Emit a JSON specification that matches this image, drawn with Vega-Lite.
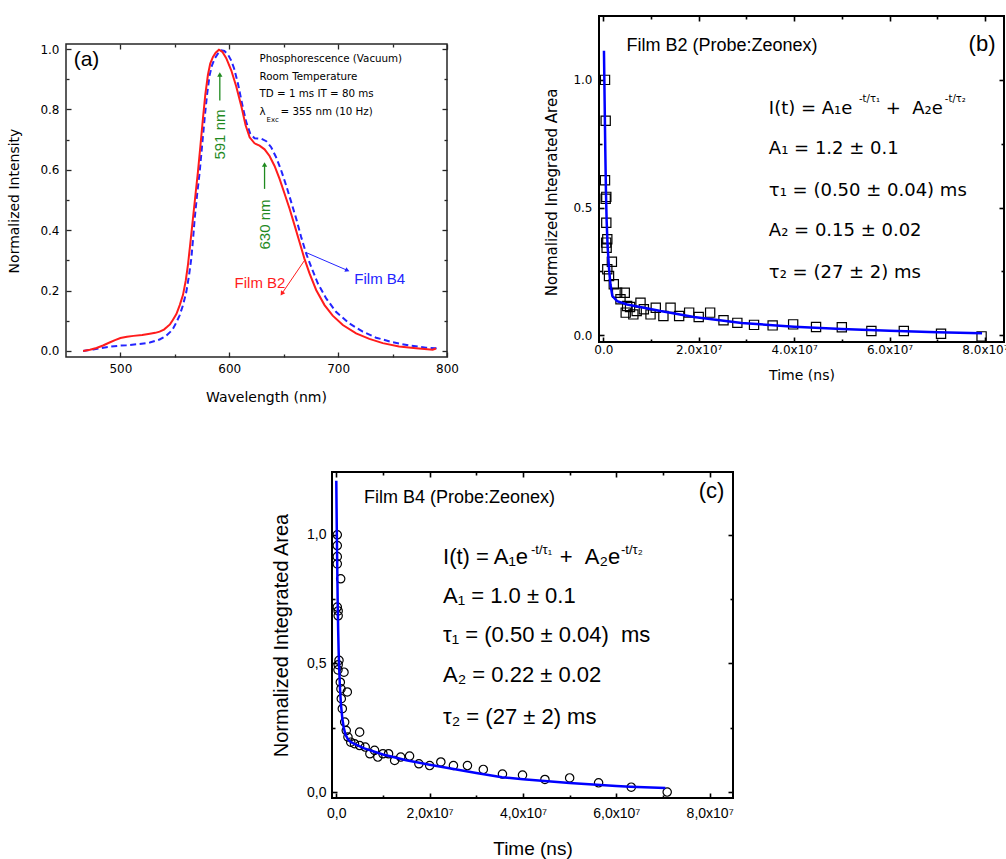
{
"$schema": "https://vega.github.io/schema/vega-lite/v6.json",
"background": "white",
"padding": {"left": 7, "top": 14, "right": 0, "bottom": 0},
"config": {
  "view": {"stroke": null},
  "axis": {"grid": false, "domain": false, "labelOverlap": false, "labelFlush": false, "tickColor": "black", "tickWidth": 1.3, "labelColor": "black", "titleColor": "black", "titleFontWeight": "normal"}
},
"datasets": {
  "filmB2": [
    {"wavelength":465.7,"intensity":0},{"wavelength":472,"intensity":0.004},{"wavelength":478,"intensity":0.01},{"wavelength":484,"intensity":0.018},{"wavelength":490,"intensity":0.028},{"wavelength":495,"intensity":0.036},{"wavelength":500,"intensity":0.043},{"wavelength":506,"intensity":0.047},{"wavelength":512,"intensity":0.05},{"wavelength":520,"intensity":0.053},{"wavelength":527,"intensity":0.057},{"wavelength":532,"intensity":0.06},{"wavelength":536,"intensity":0.064},{"wavelength":540,"intensity":0.071},{"wavelength":543,"intensity":0.08},{"wavelength":545.5,"intensity":0.088},{"wavelength":548,"intensity":0.102},{"wavelength":551.4,"intensity":0.122},{"wavelength":554.5,"intensity":0.152},{"wavelength":557.5,"intensity":0.186},{"wavelength":560,"intensity":0.233},{"wavelength":562,"intensity":0.284},{"wavelength":564,"intensity":0.35},{"wavelength":566.6,"intensity":0.438},{"wavelength":569,"intensity":0.52},{"wavelength":571.2,"intensity":0.593},{"wavelength":573.5,"intensity":0.68},{"wavelength":575.8,"intensity":0.77},{"wavelength":578,"intensity":0.85},{"wavelength":580.4,"intensity":0.915},{"wavelength":582.5,"intensity":0.952},{"wavelength":585,"intensity":0.974},{"wavelength":587.5,"intensity":0.988},{"wavelength":590.5,"intensity":0.998},{"wavelength":593.6,"intensity":0.991},{"wavelength":597.2,"intensity":0.97},{"wavelength":601.8,"intensity":0.93},{"wavelength":606.4,"intensity":0.876},{"wavelength":611,"intensity":0.812},{"wavelength":615,"intensity":0.748},{"wavelength":618.7,"intensity":0.708},{"wavelength":623.2,"intensity":0.688},{"wavelength":627.8,"intensity":0.68},{"wavelength":632.4,"intensity":0.668},{"wavelength":637,"intensity":0.646},{"wavelength":641.6,"intensity":0.613},{"wavelength":646.2,"intensity":0.57},{"wavelength":650.8,"intensity":0.521},{"wavelength":655.4,"intensity":0.471},{"wavelength":660,"intensity":0.416},{"wavelength":664.5,"intensity":0.361},{"wavelength":669,"intensity":0.306},{"wavelength":673.7,"intensity":0.257},{"wavelength":679.8,"intensity":0.202},{"wavelength":687.5,"intensity":0.152},{"wavelength":695,"intensity":0.117},{"wavelength":704.3,"intensity":0.086},{"wavelength":716.5,"intensity":0.058},{"wavelength":728.7,"intensity":0.04},{"wavelength":741,"intensity":0.026},{"wavelength":756,"intensity":0.015},{"wavelength":771.6,"intensity":0.009},{"wavelength":786.8,"intensity":0.004},{"wavelength":789.9,"intensity":0.008}
  ],
  "filmB4": [
    {"wavelength":465.7,"intensity":0},{"wavelength":475,"intensity":0.005},{"wavelength":481,"intensity":0.009},{"wavelength":490,"intensity":0.014},{"wavelength":500,"intensity":0.018},{"wavelength":505.5,"intensity":0.019},{"wavelength":517.7,"intensity":0.023},{"wavelength":527,"intensity":0.028},{"wavelength":536,"intensity":0.038},{"wavelength":542,"intensity":0.05},{"wavelength":546,"intensity":0.064},{"wavelength":548.3,"intensity":0.074},{"wavelength":551,"intensity":0.092},{"wavelength":554.4,"intensity":0.118},{"wavelength":557.5,"intensity":0.152},{"wavelength":560.5,"intensity":0.195},{"wavelength":563,"intensity":0.25},{"wavelength":565.1,"intensity":0.306},{"wavelength":566.7,"intensity":0.37},{"wavelength":568.2,"intensity":0.438},{"wavelength":570.5,"intensity":0.52},{"wavelength":572.8,"intensity":0.593},{"wavelength":575,"intensity":0.68},{"wavelength":577.3,"intensity":0.769},{"wavelength":579.6,"intensity":0.85},{"wavelength":581.9,"intensity":0.913},{"wavelength":584,"intensity":0.945},{"wavelength":586.5,"intensity":0.968},{"wavelength":589.5,"intensity":0.985},{"wavelength":592.7,"intensity":0.996},{"wavelength":595.5,"intensity":0.994},{"wavelength":598.8,"intensity":0.982},{"wavelength":601.8,"intensity":0.962},{"wavelength":604.5,"intensity":0.935},{"wavelength":608,"intensity":0.885},{"wavelength":612,"intensity":0.815},{"wavelength":615.6,"intensity":0.758},{"wavelength":619.3,"intensity":0.719},{"wavelength":623.2,"intensity":0.705},{"wavelength":626,"intensity":0.704},{"wavelength":629.4,"intensity":0.703},{"wavelength":634,"intensity":0.695},{"wavelength":638.5,"intensity":0.675},{"wavelength":643,"intensity":0.642},{"wavelength":647.7,"intensity":0.598},{"wavelength":652.3,"intensity":0.548},{"wavelength":656.9,"intensity":0.493},{"wavelength":661.5,"intensity":0.438},{"wavelength":666,"intensity":0.378},{"wavelength":670.6,"intensity":0.323},{"wavelength":675.2,"intensity":0.279},{"wavelength":681.3,"intensity":0.224},{"wavelength":689,"intensity":0.174},{"wavelength":698,"intensity":0.13},{"wavelength":710.4,"intensity":0.091},{"wavelength":722.6,"intensity":0.064},{"wavelength":734.9,"intensity":0.044},{"wavelength":750,"intensity":0.029},{"wavelength":765.4,"intensity":0.018},{"wavelength":780.7,"intensity":0.011},{"wavelength":789.6,"intensity":0.009},{"wavelength":790.8,"intensity":0.02}
  ],
  "decayB2": [
    {"time":3.6e5,"area":1.0},{"time":5.0e5,"area":0.84},{"time":3.6e5,"area":0.607},{"time":6.3e5,"area":0.542},{"time":5.0e5,"area":0.535},{"time":6.3e5,"area":0.441},{"time":6.0e5,"area":0.363},{"time":8.4e5,"area":0.376},{"time":7.0e5,"area":0.343},{"time":8.4e5,"area":0.259},{"time":1.8e6,"area":0.288},{"time":1.2e6,"area":0.232},{"time":2.2e6,"area":0.2},{"time":2.9e6,"area":0.167},{"time":4.5e6,"area":0.167},{"time":3.6e6,"area":0.141},{"time":5.0e6,"area":0.115},{"time":4.7e6,"area":0.089},{"time":5.6e6,"area":0.111},{"time":6.3e6,"area":0.082},{"time":7.0e6,"area":0.095},{"time":7.8e6,"area":0.128},{"time":8.5e6,"area":0.102},{"time":9.9e6,"area":0.082},{"time":1.1e7,"area":0.108},{"time":1.26e7,"area":0.076},{"time":1.41e7,"area":0.108},{"time":1.59e7,"area":0.076},{"time":1.8e7,"area":0.089},{"time":2.0e7,"area":0.072},{"time":2.24e7,"area":0.089},{"time":2.52e7,"area":0.059},{"time":2.81e7,"area":0.049},{"time":3.16e7,"area":0.041},{"time":3.55e7,"area":0.039},{"time":3.98e7,"area":0.043},{"time":4.46e7,"area":0.033},{"time":5.0e7,"area":0.032},{"time":5.62e7,"area":0.017},{"time":6.3e7,"area":0.017},{"time":7.08e7,"area":0.006},{"time":7.93e7,"area":-0.004}
  ],
  "fitB2": [
    {"time":1.4e5,"area":1.114},{"time":2.8e5,"area":0.918},{"time":4.2e5,"area":0.722},{"time":5.6e5,"area":0.56},{"time":7e5,"area":0.45},{"time":9e5,"area":0.35},{"time":1.2e6,"area":0.262},{"time":1.5e6,"area":0.2},{"time":1.9e6,"area":0.154},{"time":2.9e6,"area":0.134},{"time":5e6,"area":0.121},{"time":1.2e7,"area":0.095},{"time":1.9e7,"area":0.072},{"time":2.9e7,"area":0.048},{"time":4e7,"area":0.034},{"time":5e7,"area":0.025},{"time":6e7,"area":0.018},{"time":7e7,"area":0.012},{"time":7.94e7,"area":0.008}
  ],
  "decayB4": [
    {"time":2.1e5,"area":1.0},{"time":2.1e5,"area":0.958},{"time":2.1e5,"area":0.915},{"time":2.1e5,"area":0.887},{"time":9.4e5,"area":0.829},{"time":2.1e5,"area":0.719},{"time":4e5,"area":0.704},{"time":4e5,"area":0.685},{"time":5.8e5,"area":0.512},{"time":4e5,"area":0.495},{"time":3.6e5,"area":0.475},{"time":1.65e6,"area":0.466},{"time":8.6e5,"area":0.427},{"time":2.36e6,"area":0.389},{"time":1.0e6,"area":0.401},{"time":1.07e6,"area":0.363},{"time":1.29e6,"area":0.324},{"time":1.8e6,"area":0.272},{"time":2.14e6,"area":0.239},{"time":5.0e6,"area":0.233},{"time":2.5e6,"area":0.214},{"time":3.1e6,"area":0.194},{"time":3.9e6,"area":0.188},{"time":5.0e6,"area":0.181},{"time":6.2e6,"area":0.175},{"time":7.2e6,"area":0.149},{"time":8.2e6,"area":0.162},{"time":8.9e6,"area":0.136},{"time":1.0e7,"area":0.149},{"time":1.12e7,"area":0.149},{"time":1.25e7,"area":0.123},{"time":1.38e7,"area":0.136},{"time":1.57e7,"area":0.14},{"time":1.77e7,"area":0.11},{"time":2.0e7,"area":0.103},{"time":2.24e7,"area":0.117},{"time":2.51e7,"area":0.103},{"time":2.81e7,"area":0.103},{"time":3.15e7,"area":0.088},{"time":3.56e7,"area":0.07},{"time":3.99e7,"area":0.066},{"time":4.47e7,"area":0.049},{"time":5.0e7,"area":0.055},{"time":5.62e7,"area":0.036},{"time":6.32e7,"area":0.019},{"time":7.09e7,"area":0.0}
  ],
  "fitB4": [
    {"time":0,"area":1.21},{"time":1e5,"area":1.03},{"time":2e5,"area":0.88},{"time":3e5,"area":0.74},{"time":4e5,"area":0.63},{"time":5e5,"area":0.55},{"time":6e5,"area":0.49},{"time":8e5,"area":0.4},{"time":1e6,"area":0.34},{"time":1.3e6,"area":0.285},{"time":1.6e6,"area":0.25},{"time":2e6,"area":0.222},{"time":2.5e6,"area":0.205},{"time":3e6,"area":0.196},{"time":4e6,"area":0.186},{"time":6e6,"area":0.17},{"time":1e7,"area":0.146},{"time":1.5e7,"area":0.124},{"time":2e7,"area":0.106},{"time":3e7,"area":0.074},{"time":3.55e7,"area":0.058},{"time":4e7,"area":0.05},{"time":5e7,"area":0.035},{"time":6e7,"area":0.024},{"time":6.3e7,"area":0.021},{"time":7.05e7,"area":0.016}
  ]
},
"spacing": 65,
"vconcat": [
 {
  "spacing": 83,
  "hconcat": [
   {
    "spacing": 6,
    "vconcat": [
     {"width": 20, "height": 20, "data": {"values": [{"k": 0}]}, "mark": {"type": "point", "opacity": 0}, "encoding": {}, "view": {"stroke": null}},
     {
      "width": 381, "height": 313,
      "view": {"stroke": "#262626", "strokeWidth": 1.5},
      "resolve": {"axis": {"x": "independent", "y": "independent"}},
      "layer": [
       {
        "data": {"name": "filmB4"},
        "mark": {"type": "line", "color": "#2424ff", "strokeWidth": 2, "strokeDash": [6, 3.5]},
        "encoding": {
         "x": {"field": "wavelength", "type": "quantitative", "scale": {"domain": [450, 800], "nice": false, "zero": false},
               "axis": {"orient": "bottom", "values": [500, 600, 700, 800], "tickSize": -5, "tickColor": "#262626", "labelPadding": 11, "labelFont": "DejaVu Sans", "labelFontSize": 12, "title": "Wavelength (nm)", "titleFont": "DejaVu Sans", "titleFontSize": 14, "titlePadding": 16, "titleX": 200}},
         "y": {"field": "intensity", "type": "quantitative", "scale": {"domain": [-0.02, 1.017], "nice": false, "zero": false},
               "axis": {"orient": "left", "values": [0, 0.2, 0.4, 0.6, 0.8, 1], "format": ".1f", "tickSize": -5, "tickColor": "#262626", "labelPadding": 12, "labelFont": "DejaVu Sans", "labelFontSize": 12, "title": "Normalized Intensity", "titleFont": "DejaVu Sans", "titleFontSize": 14, "titlePadding": 18}}
        }
       },
       {
        "data": {"name": "filmB2"},
        "mark": {"type": "line", "color": "#ff1c1c", "strokeWidth": 2},
        "encoding": {
         "x": {"field": "wavelength", "type": "quantitative", "scale": {"domain": [450, 800], "nice": false, "zero": false},
               "axis": {"orient": "top", "values": [500, 600, 700, 800], "tickSize": -5, "tickColor": "#262626", "labels": false, "title": null}},
         "y": {"field": "intensity", "type": "quantitative", "scale": {"domain": [-0.02, 1.017], "nice": false, "zero": false},
               "axis": {"orient": "right", "values": [0, 0.2, 0.4, 0.6, 0.8, 1], "tickSize": -5, "tickColor": "#262626", "labels": false, "title": null}}
        }
       },
       {
        "data": {"values": [{"wavelength": 591.3, "intensity": 0.83, "intensity2": 0.915}, {"wavelength": 632.4, "intensity": 0.537, "intensity2": 0.615}]},
        "mark": {"type": "rule", "color": "#1f8a1f", "strokeWidth": 1.3},
        "encoding": {
         "x": {"field": "wavelength", "type": "quantitative", "scale": {"domain": [450, 800], "nice": false, "zero": false},
               "axis": {"orient": "bottom", "values": [550, 650, 750], "tickSize": -3, "tickColor": "#262626", "labels": false, "title": null}},
         "y": {"field": "intensity", "type": "quantitative", "scale": {"domain": [-0.02, 1.017], "nice": false, "zero": false},
               "axis": {"orient": "left", "values": [0.1, 0.3, 0.5, 0.7, 0.9], "tickSize": -3, "tickColor": "#262626", "labels": false, "title": null}},
         "y2": {"field": "intensity2"}
        }
       },
       {
        "data": {"values": [{"wavelength": 591.3, "intensity": 0.916}, {"wavelength": 632.4, "intensity": 0.618}]},
        "mark": {"type": "point", "shape": "triangle-up", "filled": true, "color": "#1f8a1f", "opacity": 1, "size": 28},
        "encoding": {
         "x": {"field": "wavelength", "type": "quantitative", "scale": {"domain": [450, 800], "nice": false, "zero": false},
               "axis": {"orient": "top", "values": [550, 650, 750], "tickSize": -3, "tickColor": "#262626", "labels": false, "title": null}},
         "y": {"field": "intensity", "type": "quantitative", "scale": {"domain": [-0.02, 1.017], "nice": false, "zero": false},
               "axis": {"orient": "right", "values": [0.1, 0.3, 0.5, 0.7, 0.9], "tickSize": -3, "tickColor": "#262626", "labels": false, "title": null}}
        }
       },
       {
        "data": {"values": [{"wavelength": 670.6, "intensity": 0.326, "wavelength2": 708.5, "intensity2": 0.267}]},
        "mark": {"type": "rule", "color": "#2424ff", "strokeWidth": 1},
        "encoding": {
         "x": {"field": "wavelength", "type": "quantitative", "scale": {"domain": [450, 800], "nice": false, "zero": false}, "axis": null},
         "y": {"field": "intensity", "type": "quantitative", "scale": {"domain": [-0.02, 1.017], "nice": false, "zero": false}, "axis": null},
         "x2": {"field": "wavelength2"}, "y2": {"field": "intensity2"}
        }
       },
       {
        "data": {"values": [{"wavelength": 708.5, "intensity": 0.267}]},
        "mark": {"type": "point", "shape": "triangle-right", "angle": 23, "filled": true, "color": "#2424ff", "opacity": 1, "size": 26},
        "encoding": {
         "x": {"field": "wavelength", "type": "quantitative", "scale": {"domain": [450, 800], "nice": false, "zero": false}, "axis": null},
         "y": {"field": "intensity", "type": "quantitative", "scale": {"domain": [-0.02, 1.017], "nice": false, "zero": false}, "axis": null}
        }
       },
       {
        "data": {"values": [{"wavelength": 669.1, "intensity": 0.3, "wavelength2": 648.3, "intensity2": 0.19}]},
        "mark": {"type": "rule", "color": "#ff1c1c", "strokeWidth": 1},
        "encoding": {
         "x": {"field": "wavelength", "type": "quantitative", "scale": {"domain": [450, 800], "nice": false, "zero": false}, "axis": null},
         "y": {"field": "intensity", "type": "quantitative", "scale": {"domain": [-0.02, 1.017], "nice": false, "zero": false}, "axis": null},
         "x2": {"field": "wavelength2"}, "y2": {"field": "intensity2"}
        }
       },
       {
        "data": {"values": [{"wavelength": 648.3, "intensity": 0.19}]},
        "mark": {"type": "point", "shape": "triangle-right", "angle": 124, "filled": true, "color": "#ff1c1c", "opacity": 1, "size": 26},
        "encoding": {
         "x": {"field": "wavelength", "type": "quantitative", "scale": {"domain": [450, 800], "nice": false, "zero": false}, "axis": null},
         "y": {"field": "intensity", "type": "quantitative", "scale": {"domain": [-0.02, 1.017], "nice": false, "zero": false}, "axis": null}
        }
       },
       {
        "data": {"values": [{"wavelength": 591.3, "intensity": 0.717, "label": "591 nm"}, {"wavelength": 632.4, "intensity": 0.419, "label": "630 nm"}]},
        "mark": {"type": "text", "font": "Liberation Sans", "fontSize": 15, "angle": 270, "align": "center", "baseline": "middle", "color": "#1f8a1f"},
        "encoding": {
         "x": {"field": "wavelength", "type": "quantitative", "scale": {"domain": [450, 800], "nice": false, "zero": false}, "axis": null},
         "y": {"field": "intensity", "type": "quantitative", "scale": {"domain": [-0.02, 1.017], "nice": false, "zero": false}, "axis": null},
         "text": {"field": "label"}
        }
       },
       {
        "data": {"values": [{"wavelength": 714.9, "intensity": 0.237, "label": "Film B4"}]},
        "mark": {"type": "text", "font": "Liberation Sans", "fontSize": 15, "align": "left", "baseline": "middle", "color": "#2424ff"},
        "encoding": {
         "x": {"field": "wavelength", "type": "quantitative", "scale": {"domain": [450, 800], "nice": false, "zero": false}, "axis": null},
         "y": {"field": "intensity", "type": "quantitative", "scale": {"domain": [-0.02, 1.017], "nice": false, "zero": false}, "axis": null},
         "text": {"field": "label"}
        }
       },
       {
        "data": {"values": [{"wavelength": 604.9, "intensity": 0.225, "label": "Film B2"}]},
        "mark": {"type": "text", "font": "Liberation Sans", "fontSize": 15, "align": "left", "baseline": "middle", "color": "#ff1c1c"},
        "encoding": {
         "x": {"field": "wavelength", "type": "quantitative", "scale": {"domain": [450, 800], "nice": false, "zero": false}, "axis": null},
         "y": {"field": "intensity", "type": "quantitative", "scale": {"domain": [-0.02, 1.017], "nice": false, "zero": false}, "axis": null},
         "text": {"field": "label"}
        }
       },
       {
        "data": {"values": [{"wavelength": 468.8, "intensity": 0.963, "label": "(a)"}]},
        "mark": {"type": "text", "font": "Liberation Sans", "fontSize": 21, "align": "center", "baseline": "middle", "color": "black"},
        "encoding": {
         "x": {"field": "wavelength", "type": "quantitative", "scale": {"domain": [450, 800], "nice": false, "zero": false}, "axis": null},
         "y": {"field": "intensity", "type": "quantitative", "scale": {"domain": [-0.02, 1.017], "nice": false, "zero": false}, "axis": null},
         "text": {"field": "label"}
        }
       },
       {
        "data": {"values": [
          {"wavelength": 627.8, "intensity": 0.966, "label": "Phosphorescence (Vacuum)"},
          {"wavelength": 627.8, "intensity": 0.908, "label": "Room Temperature"},
          {"wavelength": 627.8, "intensity": 0.851, "label": "TD = 1 ms IT = 80 ms"},
          {"wavelength": 627.8, "intensity": 0.791, "label": "λ"},
          {"wavelength": 647.1, "intensity": 0.791, "label": "= 355 nm (10 Hz)"}
        ]},
        "mark": {"type": "text", "font": "DejaVu Sans", "fontSize": 10.3, "align": "left", "baseline": "middle", "color": "black"},
        "encoding": {
         "x": {"field": "wavelength", "type": "quantitative", "scale": {"domain": [450, 800], "nice": false, "zero": false}, "axis": null},
         "y": {"field": "intensity", "type": "quantitative", "scale": {"domain": [-0.02, 1.017], "nice": false, "zero": false}, "axis": null},
         "text": {"field": "label"}
        }
       },
       {
        "data": {"values": [{"wavelength": 634.2, "intensity": 0.766, "label": "Exc"}]},
        "mark": {"type": "text", "font": "DejaVu Sans", "fontSize": 7, "align": "left", "baseline": "middle", "color": "black"},
        "encoding": {
         "x": {"field": "wavelength", "type": "quantitative", "scale": {"domain": [450, 800], "nice": false, "zero": false}, "axis": null},
         "y": {"field": "intensity", "type": "quantitative", "scale": {"domain": [-0.02, 1.017], "nice": false, "zero": false}, "axis": null},
         "text": {"field": "label"}
        }
       }
      ]
     }
    ]
   },
   {
    "width": 405, "height": 326,
    "view": {"stroke": "black", "strokeWidth": 2},
    "resolve": {"axis": {"x": "independent", "y": "independent"}},
    "layer": [
     {
      "data": {"name": "decayB2"},
      "mark": {"type": "point", "shape": "square", "filled": false, "stroke": "black", "strokeWidth": 1.2, "opacity": 1, "size": 85},
      "encoding": {
       "x": {"field": "time", "type": "quantitative", "scale": {"domain": [-9e5, 8.4e7], "nice": false, "zero": false},
             "axis": {"orient": "bottom", "values": [0, 2e7, 4e7, 6e7, 8e7], "labelExpr": "datum.value === 0 ? '0.0' : format(datum.value / 1e7, '.1f') + 'x10⁷'", "tickSize": -5, "tickWidth": 1.6, "labelPadding": 7, "labelFont": "DejaVu Sans", "labelFontSize": 12, "title": "Time (ns)", "titleFont": "DejaVu Sans", "titleFontSize": 14, "titlePadding": 13}},
       "y": {"field": "area", "type": "quantitative", "scale": {"domain": [-0.026, 1.25], "nice": false, "zero": false},
             "axis": {"orient": "left", "values": [0, 0.5, 1], "format": ".1f", "tickSize": -5, "tickWidth": 1.6, "labelPadding": 12, "labelFont": "DejaVu Sans", "labelFontSize": 12, "title": "Normalized Integrated Area", "titleFont": "DejaVu Sans", "titleFontSize": 15, "titlePadding": 13, "titleY": 176}}
      }
     },
     {
      "data": {"name": "fitB2"},
      "mark": {"type": "line", "color": "#0000ff", "strokeWidth": 2.5},
      "encoding": {
       "x": {"field": "time", "type": "quantitative", "scale": {"domain": [-9e5, 8.4e7], "nice": false, "zero": false},
             "axis": {"orient": "top", "values": [0, 2e7, 4e7, 6e7, 8e7], "tickSize": -5, "tickWidth": 1.6, "labels": false, "title": null}},
       "y": {"field": "area", "type": "quantitative", "scale": {"domain": [-0.026, 1.25], "nice": false, "zero": false},
             "axis": {"orient": "right", "values": [0, 0.5, 1], "tickSize": -5, "tickWidth": 1.6, "labels": false, "title": null}}
      }
     },
     {
      "data": {"values": [{"time": 4.86e6, "area": 1.133, "label": "Film B2 (Probe:Zeonex)"}]},
      "mark": {"type": "text", "font": "Liberation Sans", "fontSize": 18, "align": "left", "baseline": "middle", "color": "black"},
      "encoding": {
       "x": {"field": "time", "type": "quantitative", "scale": {"domain": [-9e5, 8.4e7], "nice": false, "zero": false},
             "axis": {"orient": "bottom", "values": [1e7, 3e7, 5e7, 7e7], "tickSize": -3, "tickWidth": 1.6, "labels": false, "title": null}},
       "y": {"field": "area", "type": "quantitative", "scale": {"domain": [-0.026, 1.25], "nice": false, "zero": false},
             "axis": {"orient": "left", "values": [0.25, 0.75], "tickSize": -3, "tickWidth": 1.6, "labels": false, "title": null}},
       "text": {"field": "label"}
      }
     },
     {
      "data": {"values": [{"time": 7.94e7, "area": 1.141, "label": "(b)"}]},
      "mark": {"type": "text", "font": "Liberation Sans", "fontSize": 22, "align": "center", "baseline": "middle", "color": "black"},
      "encoding": {
       "x": {"field": "time", "type": "quantitative", "scale": {"domain": [-9e5, 8.4e7], "nice": false, "zero": false},
             "axis": {"orient": "top", "values": [1e7, 3e7, 5e7, 7e7], "tickSize": -3, "tickWidth": 1.6, "labels": false, "title": null}},
       "y": {"field": "area", "type": "quantitative", "scale": {"domain": [-0.026, 1.25], "nice": false, "zero": false},
             "axis": {"orient": "right", "values": [0.25, 0.75], "tickSize": -3, "tickWidth": 1.6, "labels": false, "title": null}},
       "text": {"field": "label"}
      }
     },
     {
      "data": {"values": [
        {"time": 3.47e7, "area": 0.885, "label": "I(t) = A₁e"},
        {"time": 5.92e7, "area": 0.885, "label": "+ \u00a0A₂e"},
        {"time": 3.47e7, "area": 0.729, "label": "A₁ = 1.2 ± 0.1"},
        {"time": 3.47e7, "area": 0.565, "label": "τ₁ = (0.50 ± 0.04) ms"},
        {"time": 3.47e7, "area": 0.409, "label": "A₂ = 0.15 ± 0.02"},
        {"time": 3.47e7, "area": 0.245, "label": "τ₂ = (27 ± 2) ms"}
      ]},
      "mark": {"type": "text", "font": "DejaVu Sans", "fontSize": 18, "align": "left", "baseline": "middle", "color": "black"},
      "encoding": {
       "x": {"field": "time", "type": "quantitative", "scale": {"domain": [-9e5, 8.4e7], "nice": false, "zero": false}, "axis": null},
       "y": {"field": "area", "type": "quantitative", "scale": {"domain": [-0.026, 1.25], "nice": false, "zero": false}, "axis": null},
       "text": {"field": "label"}
      }
     },
     {
      "data": {"values": [
        {"time": 5.36e7, "area": 0.924, "label": "-t/τ₁"},
        {"time": 7.16e7, "area": 0.924, "label": "-t/τ₂"}
      ]},
      "mark": {"type": "text", "font": "DejaVu Sans", "fontSize": 10, "align": "left", "baseline": "middle", "color": "black"},
      "encoding": {
       "x": {"field": "time", "type": "quantitative", "scale": {"domain": [-9e5, 8.4e7], "nice": false, "zero": false}, "axis": null},
       "y": {"field": "area", "type": "quantitative", "scale": {"domain": [-0.026, 1.25], "nice": false, "zero": false}, "axis": null},
       "text": {"field": "label"}
      }
     }
    ]
   }
  ]
 },
 {
  "spacing": 54,
  "hconcat": [
   {"width": 150, "height": 20, "data": {"values": [{"k": 0}]}, "mark": {"type": "point", "opacity": 0}, "encoding": {}, "view": {"stroke": null}},
   {
    "width": 401, "height": 326,
    "view": {"stroke": "black", "strokeWidth": 2},
    "resolve": {"axis": {"x": "independent", "y": "independent"}},
    "layer": [
     {
      "data": {"name": "decayB4"},
      "mark": {"type": "point", "shape": "circle", "filled": false, "stroke": "black", "strokeWidth": 1.2, "opacity": 1, "size": 70},
      "encoding": {
       "x": {"field": "time", "type": "quantitative", "scale": {"domain": [-9.2e5, 8.5e7], "nice": false, "zero": false},
             "axis": {"orient": "bottom", "values": [0, 2e7, 4e7, 6e7, 8e7], "labelExpr": "datum.value === 0 ? '0,0' : replace(format(datum.value / 1e7, '.1f'), '.', ',') + 'x10⁷'", "tickSize": -5, "tickWidth": 1.6, "labelPadding": 13, "labelFont": "Liberation Sans", "labelFontSize": 14, "title": "Time (ns)", "titleFont": "Liberation Sans", "titleFontSize": 19, "titlePadding": 19}},
       "y": {"field": "area", "type": "quantitative", "scale": {"domain": [-0.023, 1.244], "nice": false, "zero": false},
             "axis": {"orient": "left", "values": [0, 0.5, 1], "labelExpr": "replace(format(datum.value, '.1f'), '.', ',')", "tickSize": -5, "tickWidth": 1.6, "labelPadding": 11, "labelFont": "Liberation Sans", "labelFontSize": 14, "title": "Normalized Integrated Area", "titleFont": "Liberation Sans", "titleFontSize": 20, "titlePadding": 15}}
      }
     },
     {
      "data": {"name": "fitB4"},
      "mark": {"type": "line", "color": "#0000ff", "strokeWidth": 2.5},
      "encoding": {
       "x": {"field": "time", "type": "quantitative", "scale": {"domain": [-9.2e5, 8.5e7], "nice": false, "zero": false},
             "axis": {"orient": "top", "values": [0, 2e7, 4e7, 6e7, 8e7], "tickSize": -5, "tickWidth": 1.6, "labels": false, "title": null}},
       "y": {"field": "area", "type": "quantitative", "scale": {"domain": [-0.023, 1.244], "nice": false, "zero": false},
             "axis": {"orient": "right", "values": [0, 0.5, 1], "tickSize": -5, "tickWidth": 1.6, "labels": false, "title": null}}
      }
     },
     {
      "data": {"values": [{"time": 5.94e6, "area": 1.143, "label": "Film B4 (Probe:Zeonex)"}]},
      "mark": {"type": "text", "font": "Liberation Sans", "fontSize": 18, "align": "left", "baseline": "middle", "color": "black"},
      "encoding": {
       "x": {"field": "time", "type": "quantitative", "scale": {"domain": [-9.2e5, 8.5e7], "nice": false, "zero": false},
             "axis": {"orient": "bottom", "values": [1e7, 3e7, 5e7, 7e7], "tickSize": -3, "tickWidth": 1.6, "labels": false, "title": null}},
       "y": {"field": "area", "type": "quantitative", "scale": {"domain": [-0.023, 1.244], "nice": false, "zero": false},
             "axis": {"orient": "left", "values": [0.25, 0.75], "tickSize": -3, "tickWidth": 1.6, "labels": false, "title": null}},
       "text": {"field": "label"}
      }
     },
     {
      "data": {"values": [{"time": 8.04e7, "area": 1.172, "label": "(c)"}]},
      "mark": {"type": "text", "font": "Liberation Sans", "fontSize": 22, "align": "center", "baseline": "middle", "color": "black"},
      "encoding": {
       "x": {"field": "time", "type": "quantitative", "scale": {"domain": [-9.2e5, 8.5e7], "nice": false, "zero": false},
             "axis": {"orient": "top", "values": [1e7, 3e7, 5e7, 7e7], "tickSize": -3, "tickWidth": 1.6, "labels": false, "title": null}},
       "y": {"field": "area", "type": "quantitative", "scale": {"domain": [-0.023, 1.244], "nice": false, "zero": false},
             "axis": {"orient": "right", "values": [0.25, 0.75], "tickSize": -3, "tickWidth": 1.6, "labels": false, "title": null}},
       "text": {"field": "label"}
      }
     },
     {
      "data": {"values": [
        {"time": 2.287e7, "area": 0.913, "label": "I(t) = A₁e"},
        {"time": 4.787e7, "area": 0.913, "label": "+ \u00a0A₂e"},
        {"time": 2.287e7, "area": 0.764, "label": "A₁ = 1.0 ± 0.1"},
        {"time": 2.287e7, "area": 0.609, "label": "τ₁ = (0.50 ± 0.04) \u00a0ms"},
        {"time": 2.287e7, "area": 0.456, "label": "A₂ = 0.22 ± 0.02"},
        {"time": 2.287e7, "area": 0.291, "label": "τ₂ = (27 ± 2) ms"}
      ]},
      "mark": {"type": "text", "font": "Liberation Sans", "fontSize": 22, "align": "left", "baseline": "middle", "color": "black"},
      "encoding": {
       "x": {"field": "time", "type": "quantitative", "scale": {"domain": [-9.2e5, 8.5e7], "nice": false, "zero": false}, "axis": null},
       "y": {"field": "area", "type": "quantitative", "scale": {"domain": [-0.023, 1.244], "nice": false, "zero": false}, "axis": null},
       "text": {"field": "label"}
      }
     },
     {
      "data": {"values": [
        {"time": 4.172e7, "area": 0.939, "label": "-t/τ₁"},
        {"time": 6.101e7, "area": 0.939, "label": "-t/τ₂"}
      ]},
      "mark": {"type": "text", "font": "Liberation Sans", "fontSize": 13, "align": "left", "baseline": "middle", "color": "black"},
      "encoding": {
       "x": {"field": "time", "type": "quantitative", "scale": {"domain": [-9.2e5, 8.5e7], "nice": false, "zero": false}, "axis": null},
       "y": {"field": "area", "type": "quantitative", "scale": {"domain": [-0.023, 1.244], "nice": false, "zero": false}, "axis": null},
       "text": {"field": "label"}
      }
     }
    ]
   }
  ]
 }
]
}
